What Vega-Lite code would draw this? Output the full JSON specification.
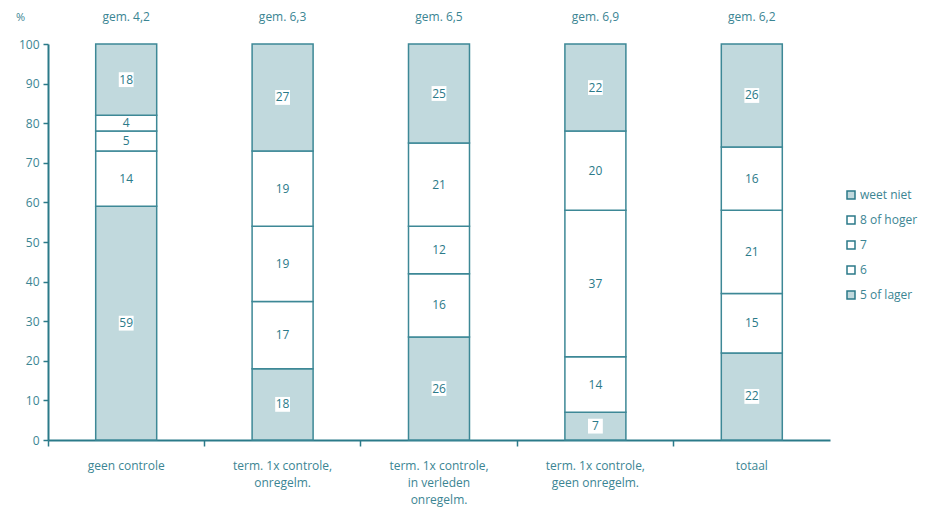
{
  "$schema": "https://vega.github.io/schema/vega-lite/v6.json",
  "width": 782,
  "height": 396,
  "autosize": "none",
  "padding": {"left": 48, "top": 44, "right": 115, "bottom": 74},
  "background": "white",
  "config": {
    "view": {"stroke": null},
    "font": "Open Sans",
    "axis": {"grid": false, "domainColor": "#2b7a89", "domainWidth": 2, "tickColor": "#2b7a89", "tickWidth": 1.5, "labelColor": "#3b8593", "labelFontSize": 12, "titleColor": "#3b8593", "titleFontWeight": "normal"},
    "axisY": {"values": [0,10,20,30,40,50,60,70,80,90,100], "labelOverlap": false, "tickSize": 5, "labelPadding": 4}
  },
  "datasets": {
    "shares": [
      {"group": "geen controle", "cat": "5 of lager", "pct": 59},
      {"group": "geen controle", "cat": "6", "pct": 14},
      {"group": "geen controle", "cat": "7", "pct": 5},
      {"group": "geen controle", "cat": "8 of hoger", "pct": 4},
      {"group": "geen controle", "cat": "weet niet", "pct": 18},
      {"group": "term. 1x controle,|onregelm.", "cat": "5 of lager", "pct": 18},
      {"group": "term. 1x controle,|onregelm.", "cat": "6", "pct": 17},
      {"group": "term. 1x controle,|onregelm.", "cat": "7", "pct": 19},
      {"group": "term. 1x controle,|onregelm.", "cat": "8 of hoger", "pct": 19},
      {"group": "term. 1x controle,|onregelm.", "cat": "weet niet", "pct": 27},
      {"group": "term. 1x controle,|in verleden|onregelm.", "cat": "5 of lager", "pct": 26},
      {"group": "term. 1x controle,|in verleden|onregelm.", "cat": "6", "pct": 16},
      {"group": "term. 1x controle,|in verleden|onregelm.", "cat": "7", "pct": 12},
      {"group": "term. 1x controle,|in verleden|onregelm.", "cat": "8 of hoger", "pct": 21},
      {"group": "term. 1x controle,|in verleden|onregelm.", "cat": "weet niet", "pct": 25},
      {"group": "term. 1x controle,|geen onregelm.", "cat": "5 of lager", "pct": 7},
      {"group": "term. 1x controle,|geen onregelm.", "cat": "6", "pct": 14},
      {"group": "term. 1x controle,|geen onregelm.", "cat": "7", "pct": 37},
      {"group": "term. 1x controle,|geen onregelm.", "cat": "8 of hoger", "pct": 20},
      {"group": "term. 1x controle,|geen onregelm.", "cat": "weet niet", "pct": 22},
      {"group": "totaal", "cat": "5 of lager", "pct": 22},
      {"group": "totaal", "cat": "6", "pct": 15},
      {"group": "totaal", "cat": "7", "pct": 21},
      {"group": "totaal", "cat": "8 of hoger", "pct": 16},
      {"group": "totaal", "cat": "weet niet", "pct": 26}
    ],
    "means": [
      {"group": "geen controle", "gem": "gem. 4,2"},
      {"group": "term. 1x controle,|onregelm.", "gem": "gem. 6,3"},
      {"group": "term. 1x controle,|in verleden|onregelm.", "gem": "gem. 6,5"},
      {"group": "term. 1x controle,|geen onregelm.", "gem": "gem. 6,9"},
      {"group": "totaal", "gem": "gem. 6,2"}
    ]
  },
  "encoding": {
    "x": {
      "field": "group", "type": "nominal", "sort": null,
      "scale": {"paddingInner": 0, "paddingOuter": 0},
      "axis": {"title": null, "labelAngle": 0, "bandPosition": 0, "tickSize": 6, "labelPadding": 14, "labelExpr": "split(datum.label, '|')", "labelLineHeight": 17}
    }
  },
  "layer": [
    {
      "data": {"name": "shares"},
      "transform": [
        {"calculate": "indexof(['5 of lager','6','7','8 of hoger','weet niet'], datum.cat)", "as": "k"},
        {"stack": "pct", "groupby": ["group"], "sort": [{"field": "k", "order": "ascending"}], "as": ["y0", "y1"]}
      ],
      "mark": {"type": "bar", "width": {"band": 0.39}, "stroke": "#3d8896", "strokeWidth": 1.5},
      "encoding": {
        "y": {
          "field": "y1", "type": "quantitative",
          "scale": {"domain": [0, 100], "nice": false},
          "axis": {"title": "%", "titleAngle": 0, "titleFontSize": 11, "titleX": -28, "titleY": -22, "titleAlign": "center"}
        },
        "y2": {"field": "y0"},
        "fill": {
          "field": "cat", "type": "nominal",
          "scale": {"domain": ["weet niet", "8 of hoger", "7", "6", "5 of lager"], "range": ["#c1d9dd", "#ffffff", "#ffffff", "#ffffff", "#c1d9dd"]},
          "legend": {"title": null, "orient": "none", "legendX": 797, "legendY": 145, "symbolType": "square", "symbolSize": 64, "symbolStrokeColor": "#2b7a89", "symbolStrokeWidth": 1.5, "labelColor": "#3b8593", "labelFontSize": 12, "rowPadding": 11, "labelOffset": 3}
        }
      }
    },
    {
      "data": {"name": "shares"},
      "transform": [
        {"calculate": "indexof(['5 of lager','6','7','8 of hoger','weet niet'], datum.cat)", "as": "k"},
        {"stack": "pct", "groupby": ["group"], "sort": [{"field": "k", "order": "ascending"}], "as": ["y0", "y1"]},
        {"calculate": "(datum.y0 + datum.y1) / 2", "as": "y1"},
        {"filter": "datum.cat == '5 of lager' || datum.cat == 'weet niet'"}
      ],
      "mark": {"type": "square", "size": 220, "color": "white", "opacity": 1, "filled": true},
      "encoding": {
        "y": {"field": "y1", "type": "quantitative"}
      }
    },
    {
      "data": {"name": "shares"},
      "transform": [
        {"calculate": "indexof(['5 of lager','6','7','8 of hoger','weet niet'], datum.cat)", "as": "k"},
        {"stack": "pct", "groupby": ["group"], "sort": [{"field": "k", "order": "ascending"}], "as": ["y0", "y1"]},
        {"calculate": "(datum.y0 + datum.y1) / 2", "as": "y1"}
      ],
      "mark": {"type": "text", "color": "#2b7a89", "fontSize": 12, "baseline": "middle"},
      "encoding": {
        "y": {"field": "y1", "type": "quantitative"},
        "text": {"field": "pct", "type": "quantitative"}
      }
    },
    {
      "data": {"name": "means"},
      "mark": {"type": "text", "color": "#3b8593", "fontSize": 12, "dy": -27},
      "encoding": {
        "y": {"datum": 100, "type": "quantitative"},
        "text": {"field": "gem"}
      }
    }
  ]
}
